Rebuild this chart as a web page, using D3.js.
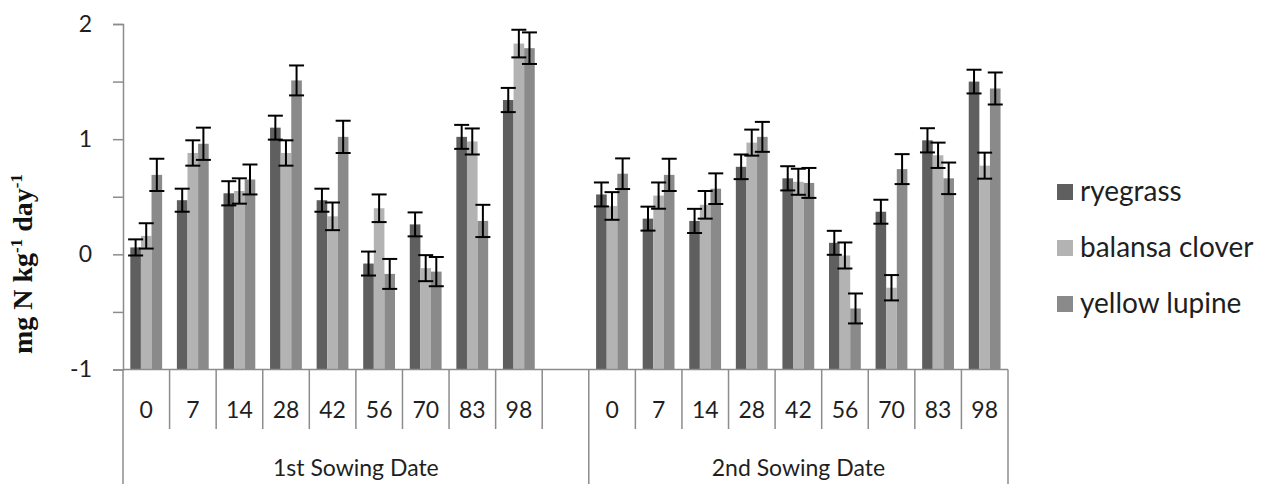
<!DOCTYPE html>
<html>
<head>
<meta charset="utf-8">
<script src="https://cdn.jsdelivr.net/npm/d3@7"></script>
<style>
  body { margin: 0; background: #fff; }
  svg { display: block; }
</style>
</head>
<body>
<svg id="chart"></svg>
<script>
const width = 1262, height = 484

// sampling days and the two sowing dates
const days = ["0", "7", "14", "28", "42", "56", "70", "83", "98"]
const sowings = ["1st Sowing Date", "2nd Sowing Date"]
const seriesNames = ["ryegrass", "balansa clover", "yellow lupine"]

// mean values, 1st sowing date
const ryegrass1 = [0.06, 0.47, 0.53, 1.10, 0.47, -0.08, 0.26, 1.02, 1.34]
const balansa1  = [0.16, 0.88, 0.55, 0.88, 0.33, 0.40, -0.12, 0.98, 1.83]
const lupine1   = [0.69, 0.96, 0.65, 1.51, 1.02, -0.17, -0.15, 0.29, 1.79]
// mean values, 2nd sowing date
const ryegrass2 = [0.52, 0.31, 0.29, 0.76, 0.66, 0.10, 0.37, 0.99, 1.50]
const balansa2  = [0.42, 0.51, 0.43, 0.97, 0.63, -0.01, -0.29, 0.86, 0.77]
const lupine2   = [0.70, 0.69, 0.57, 1.02, 0.62, -0.47, 0.74, 0.66, 1.44]

// error bar half widths
const ryeErr1 = [0.07, 0.10, 0.105, 0.104, 0.10, 0.104, 0.104, 0.104, 0.105]
const balErr1 = [0.11, 0.11, 0.11, 0.11, 0.12, 0.12, 0.113, 0.113, 0.12]
const lupErr1 = [0.14, 0.14, 0.13, 0.13, 0.14, 0.13, 0.127, 0.14, 0.137]
const ryeErr2 = [0.104, 0.104, 0.105, 0.107, 0.105, 0.104, 0.104, 0.105, 0.103]
const balErr2 = [0.12, 0.114, 0.12, 0.113, 0.113, 0.113, 0.11, 0.11, 0.113]
const lupErr2 = [0.133, 0.14, 0.133, 0.13, 0.13, 0.13, 0.13, 0.137, 0.139]

const yTicks = [-1, -0.5, 0, 0.5, 1, 1.5, 2]
const colors = ["#5f5f5f", "#b3b3b3", "#8a8a8a"]

const values = [[ryegrass1, balansa1, lupine1], [ryegrass2, balansa2, lupine2]]
const errors = [[ryeErr1, balErr1, lupErr1], [ryeErr2, balErr2, lupErr2]]

// one band per day, plus an empty spacer band between the sowing dates
let bands = []
days.forEach(d => bands.push("1-" + d))
bands.push("gap")
days.forEach(d => bands.push("2-" + d))

let rows = []
sowings.forEach((s, gi) => {
    days.forEach((d, di) => {
        seriesNames.forEach((name, si) => {
            rows.push({
                band: (gi + 1) + "-" + d,
                series: name,
                si: si,
                value: values[gi][si][di],
                err: errors[gi][si][di]
            })
        })
    })
})

const plotLeft = 123, plotRight = 1008, plotTop = 24, plotBottom = 369.5

const svg = d3.select("#chart")
    .attr("width", width)
    .attr("height", height)

const x = d3.scaleBand()
    .domain(bands)
    .range([plotLeft, plotRight])
    .padding(0)

const bw = x.bandwidth()
const x1 = d3.scaleBand()
    .domain(seriesNames)
    .range([bw * 0.157, bw * 0.84])
    .padding(0)

const y = d3.scaleLinear()
    .domain([-1, 2])
    .range([plotBottom, plotTop])

const axisColor = "#8c8c8c"
const textColor = "#1f1f1f"
const font = "Lato, 'Open Sans', sans-serif"

// bars (they rise from the bottom axis at -1)
svg.append("g")
    .selectAll("rect")
    .data(rows)
    .enter()
    .append("rect")
    .attr("x", d => x(d.band) + x1(d.series))
    .attr("width", x1.bandwidth())
    .attr("y", d => y(d.value))
    .attr("height", d => y(-1) - y(d.value))
    .attr("fill", d => colors[d.si])

// error bars
const capHalf = 7.5
let eb = svg.append("g")
    .attr("stroke", "#000")
    .attr("stroke-width", 2)
    .selectAll("g")
    .data(rows)
    .enter()
    .append("g")
    .attr("transform", d => "translate(" + (x(d.band) + x1(d.series) + x1.bandwidth() / 2) + ",0)")

eb.append("line")
    .attr("x1", 0).attr("x2", 0)
    .attr("y1", d => y(d.value + d.err))
    .attr("y2", d => y(d.value - d.err))
eb.append("line")
    .attr("x1", -capHalf).attr("x2", capHalf)
    .attr("y1", d => y(d.value + d.err))
    .attr("y2", d => y(d.value + d.err))
eb.append("line")
    .attr("x1", -capHalf).attr("x2", capHalf)
    .attr("y1", d => y(d.value - d.err))
    .attr("y2", d => y(d.value - d.err))

// y axis
let yAxis = svg.append("g")
    .attr("transform", "translate(" + plotLeft + ",0)")
    .call(d3.axisLeft(y)
        .tickValues(yTicks)
        .tickSize(10)
        .tickPadding(21)
        .tickFormat(d => Number.isInteger(d) ? d : ""))
yAxis.select(".domain").attr("stroke", axisColor).attr("stroke-width", 1.5)
yAxis.selectAll(".tick line").attr("stroke", axisColor).attr("stroke-width", 1.5)
yAxis.selectAll(".tick text")
    .attr("fill", textColor)
    .style("font-family", font)
    .style("font-size", "23px")

// x axis: baseline and band dividers
let xAxis = svg.append("g")
    .attr("stroke", axisColor)
    .attr("stroke-width", 1.5)
xAxis.append("line")
    .attr("x1", plotLeft).attr("x2", plotRight)
    .attr("y1", plotBottom).attr("y2", plotBottom)

let edges = bands.map(b => x(b))
edges.push(plotRight)
const fullEdges = [0, 10, 19]
xAxis.selectAll("line.div")
    .data(edges)
    .enter()
    .append("line")
    .attr("class", "div")
    .attr("x1", d => d).attr("x2", d => d)
    .attr("y1", plotBottom)
    .attr("y2", (d, i) => fullEdges.includes(i) ? height : 429)

// day labels
svg.append("g")
    .attr("fill", textColor)
    .style("font-family", font)
    .style("font-size", "23px")
    .style("text-anchor", "middle")
    .selectAll("text")
    .data(rows.filter(r => r.si == 0))
    .enter()
    .append("text")
    .attr("x", d => x(d.band) + bw / 2)
    .attr("y", 418)
    .text(d => d.band.split("-")[1])

// sowing date labels
svg.append("g")
    .attr("fill", textColor)
    .style("font-family", font)
    .style("font-size", "23px")
    .style("text-anchor", "middle")
    .selectAll("text")
    .data(sowings)
    .enter()
    .append("text")
    .attr("x", (d, i) => {
        let a = x((i + 1) + "-0")
        let b = i == 0 ? x("gap") + bw : plotRight
        return (a + b) / 2
    })
    .attr("y", 476)
    .text(d => d)

// y axis title
let title = svg.append("text")
    .attr("transform", "translate(31.5,264) rotate(-90)")
    .attr("fill", "#111")
    .style("font-family", "'Liberation Serif', 'Times New Roman', serif")
    .style("font-weight", "bold")
    .style("font-size", "28px")
    .style("text-anchor", "middle")
title.append("tspan").text("mg N kg")
title.append("tspan").attr("dy", -10).style("font-size", "17px").text("-1")
title.append("tspan").attr("dy", 10).text(" day")
title.append("tspan").attr("dy", -10).style("font-size", "17px").text("-1")

// legend
let legend = svg.append("g")
    .selectAll("g")
    .data(seriesNames)
    .enter()
    .append("g")
    .attr("transform", (d, i) => "translate(1057," + (192 + i * 56) + ")")
legend.append("rect")
    .attr("x", 0).attr("y", -8)
    .attr("width", 16).attr("height", 16)
    .attr("fill", (d, i) => colors[i])
legend.append("text")
    .attr("x", 23)
    .attr("y", 9)
    .attr("fill", textColor)
    .style("font-family", font)
    .style("font-size", "28px")
    .text(d => d)
</script>
</body>
</html>
